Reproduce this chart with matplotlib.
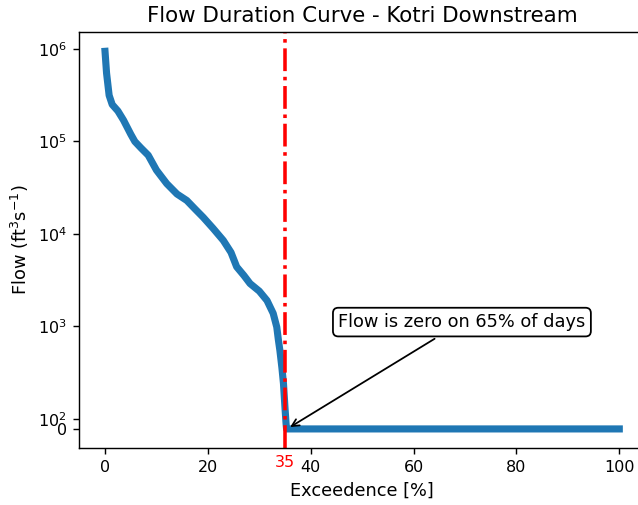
import numpy as np
import matplotlib
matplotlib.use("Agg")
import matplotlib.pyplot as plt
import matplotlib.transforms as mtransforms

# Flow duration curve values
exceedence = [0, 0.3, 0.8, 1.4, 2.5, 3.6, 5.0, 5.8, 7.0, 8.4, 10.0, 12.0, 14.0,
              15.9, 17.5, 19.1, 21.0, 23.0, 24.5, 25.6, 27.0, 28.2, 30.0, 31.5,
              32.7, 33.4, 33.7, 34.0, 34.4, 34.7, 35.0, 35.2, 35.3, 100]
flow = [946000, 550000, 316000, 251000, 214000, 170000, 120000, 100000, 85000,
        71000, 49000, 35000, 27000, 23000, 18600, 15100, 11500, 8500, 6300,
        4400, 3550, 2900, 2400, 1900, 1380, 980, 720, 550, 355, 240, 130, 55,
        0, 0]
zero_pct = 35
annot_text = "Flow is zero on 65% of days"
ytick_vals = [0, 1e2, 1e3, 1e4, 1e5, 1e6]

fig = plt.figure(figsize=(638 / 128, 505 / 128), dpi=128)
ax = fig.add_axes([79.3 / 638, 57.5 / 505, (645 - 79.3) / 638, (447.5 - 32.3) / 505])

ax.plot(exceedence, flow, color="#1f77b4", linewidth=4)
ax.set_yscale("symlog", linthresh=100, linscale=0.1)
ax.axvline(zero_pct, color="red", linestyle="-.", linewidth=2)

ax.set_xlim(-5, 105)
ax.set_ylim(-123, 1.52e6)
ax.set_yticks(ytick_vals)
ax.yaxis.set_minor_locator(matplotlib.ticker.NullLocator())

ax.annotate(annot_text, xy=(35.4, 0), xytext=(69.4, 1110),
            ha="center", va="center", fontsize=10,
            bbox=dict(boxstyle="round", fc="white", ec="black"),
            arrowprops=dict(arrowstyle="->", color="black", lw=1))

trans = mtransforms.blended_transform_factory(ax.transData, ax.transAxes)
ax.annotate(str(zero_pct), xy=(zero_pct, 0), xycoords=trans,
            xytext=(0, -4), textcoords="offset points",
            ha="center", va="top", color="red", fontsize=9)

ax.set_title("Flow Duration Curve - Kotri Downstream", fontsize=12)
ax.set_xlabel("Exceedence [%]", fontsize=10)
ax.set_ylabel("Flow (ft$^3$s$^{-1}$)", fontsize=10)
ax.tick_params(labelsize=9)

fig.savefig("out.png", dpi=128)
